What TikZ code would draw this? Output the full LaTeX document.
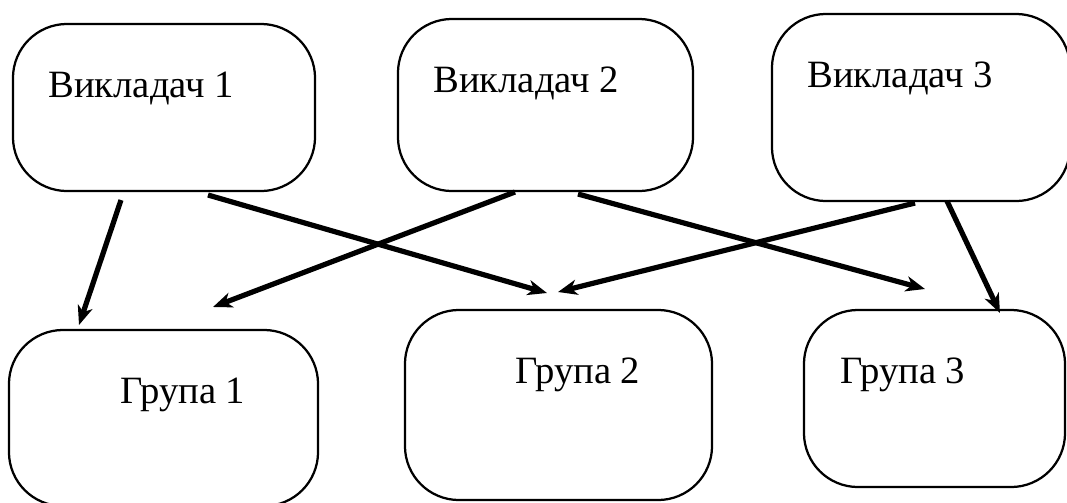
\documentclass[tikz,border=0pt]{standalone}
\usepackage{fontspec}
\setmainfont{Liberation Serif}
\usetikzlibrary{arrows.meta}

\begin{document}
\begin{tikzpicture}[x=0.025cm,y=-0.025cm,line join=round,
	>={Stealth[length=4.8mm,width=3.8mm,inset=1.4mm]},
	box/.style={draw,line width=1.6pt,rounded corners=1.35cm,inner sep=0pt},
	lbl/.style={anchor=base west,inner sep=0pt,font=\fontsize{27.5}{32}\selectfont},
	arr/.style={->,line width=3.7pt}]
	\useasboundingbox (0,0) rectangle (1067,502);
	\clip (0,0) rectangle (1067,502);
	% Викладачі
	\node[box,minimum width=7.55cm,minimum height=4.175cm] (v1) at (164,107.5) {};
	\node[box,minimum width=7.375cm,minimum height=4.3cm] (v2) at (545.5,105) {};
	\node[box,minimum width=7.45cm,minimum height=4.675cm] (v3) at (921,107.5) {};
	\node[lbl] (tv1) at (48,97) {Викладач 1};
	\node[lbl] (tv2) at (433,92) {Викладач 2};
	\node[lbl] (tv3) at (807,87) {Викладач 3};
	% Групи
	\node[box,minimum width=7.725cm,minimum height=4.4cm] (g1) at (163.5,418) {};
	\node[box,minimum width=7.675cm,minimum height=4.75cm] (g2) at (558.5,405) {};
	\node[box,minimum width=6.525cm,minimum height=4.425cm] (g3) at (934.5,398.5) {};
	\node[lbl] (tg1) at (120,403) {Група 1};
	\node[lbl] (tg2) at (515,383) {Група 2};
	\node[lbl] (tg3) at (840,383) {Група 3};
	% Стрілки
	\coordinate (v1a) at (121,200);
	\coordinate (v1b) at (208,195);
	\coordinate (v2a) at (515,192);
	\coordinate (v2b) at (578,194);
	\coordinate (v3a) at (915,203);
	\coordinate (v3b) at (947,201);
	\coordinate (g1a) at (79,325);
	\coordinate (g1b) at (213,307);
	\coordinate (g2a) at (547,293);
	\coordinate (g2b) at (558,292);
	\coordinate (g3a) at (925,289);
	\coordinate (g3b) at (1000,313);
	\draw[arr] (v1a)--(g1a);
	\draw[arr] (v1b)--(g2a);
	\draw[arr] (v2a)--(g1b);
	\draw[arr] (v2b)--(g3a);
	\draw[arr] (v3a)--(g2b);
	\draw[arr] (v3b)--(g3b);
\end{tikzpicture}
\end{document}
